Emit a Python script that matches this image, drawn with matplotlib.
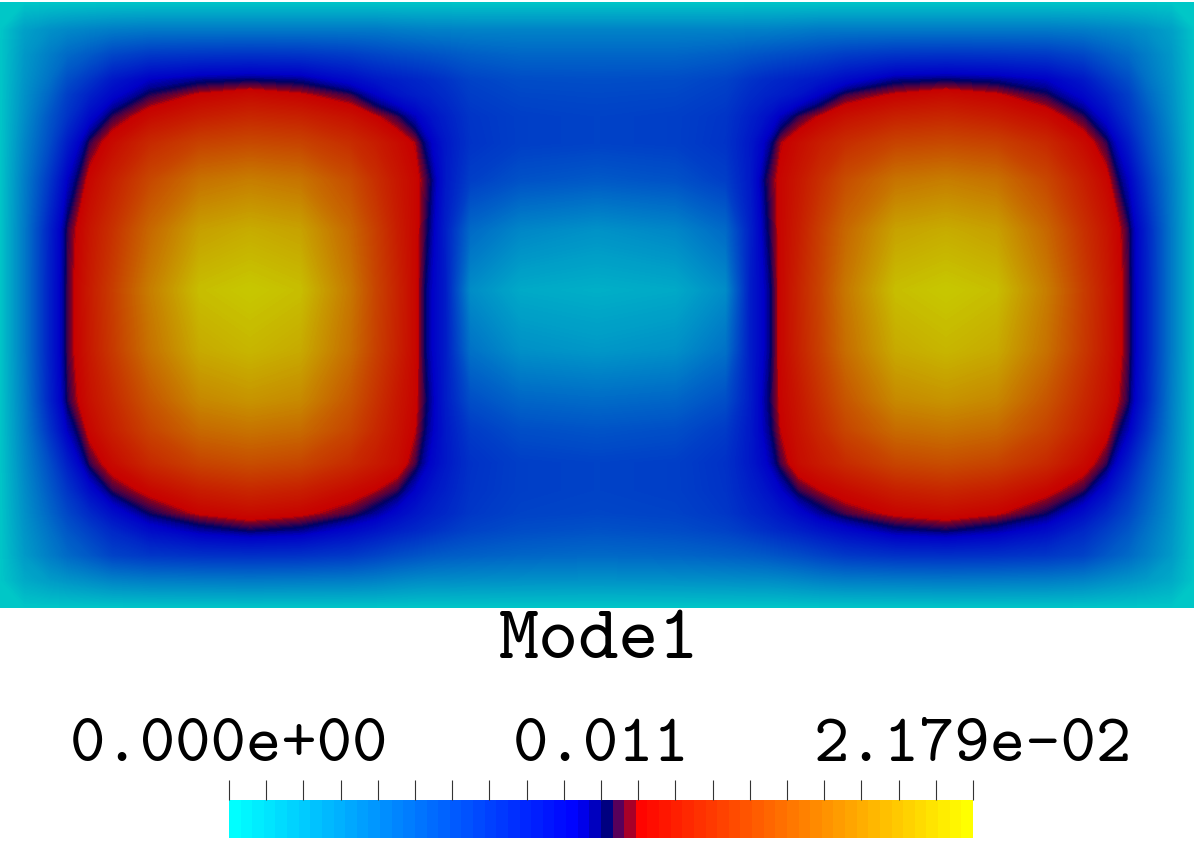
"""
Model1 field on a rectangle, with a ParaView style scalar bar
"""
import numpy as np
import matplotlib
matplotlib.use('Agg')
import matplotlib.pyplot as plt
from matplotlib.colors import LinearSegmentedColormap, to_rgb

# ── Data ──────────────────────────────────────────────────────────────────
scale_title = 'Mode1'
scale_min, scale_max = 0.0, 2.179e-2
scale_labels = ['0.000e+00', '0.011', '2.179e-02']
n_ticks = 21

# grid lines of the left half of the domain, in picture pixels
xs_left = [0, 25, 50, 68, 90, 113, 150, 200, 250, 300, 350, 375, 397, 415, 430, 445, 470, 520, 597]
ys = [2, 30, 55, 80, 95, 117, 143, 180, 230, 290, 350, 400, 430, 463, 490, 513, 530, 555, 580, 608]

# values, in units of 1e-4
field_left = [
    [0, 0, 0, 0, 0, 0, 0, 0, 0, 0, 0, 0, 0, 0, 0, 0, 0, 0, 0],
    [0, 20, 28, 32, 35, 38, 40, 40, 40, 40, 40, 40, 38, 37, 36, 36, 35, 35, 35],
    [0, 24, 38, 48, 56, 66, 73, 75, 76, 75, 71, 67, 64, 62, 60, 58, 54, 50, 50],
    [0, 26, 44, 62, 75, 90, 102, 108, 110, 108, 97, 90, 86, 83, 80, 76, 68, 63, 62],
    [0, 28, 50, 70, 85, 98, 112, 120, 124, 120, 113, 102, 92, 87, 84, 80, 71, 66, 65],
    [0, 30, 58, 76, 97, 113, 124, 133, 138, 135, 127, 120, 113, 103, 93, 86, 75, 70, 68],
    [0, 34, 63, 88, 113, 124, 139, 151, 155, 152, 141, 133, 125, 118, 103, 90, 76, 70, 68],
    [0, 38, 74, 102, 122, 134, 154, 175, 181, 176, 157, 142, 130, 122, 111, 90, 70, 60, 56],
    [0, 40, 85, 113, 129, 143, 170, 198, 204, 199, 170, 150, 133, 122, 108, 86, 48, 33, 27],
    [0, 40, 86, 114, 132, 149, 181, 213, 218, 213, 178, 153, 136, 122, 104, 88, 30, 15, 12],
    [0, 40, 86, 114, 131, 147, 175, 203, 209, 203, 173, 151, 135, 122, 104, 88, 44, 28, 24],
    [0, 38, 84, 112, 127, 139, 161, 186, 192, 187, 161, 144, 130, 121, 107, 88, 62, 50, 47],
    [0, 36, 76, 103, 122, 134, 152, 171, 176, 172, 153, 139, 128, 119, 105, 90, 72, 62, 59],
    [0, 33, 63, 87, 113, 124, 139, 152, 157, 153, 140, 132, 125, 114, 100, 90, 77, 70, 68],
    [0, 30, 56, 75, 96, 113, 122, 133, 138, 134, 124, 119, 113, 101, 92, 86, 76, 70, 68],
    [0, 28, 50, 66, 81, 95, 111, 120, 124, 121, 114, 107, 98, 91, 86, 82, 74, 68, 66],
    [0, 26, 44, 58, 70, 82, 96, 106, 111, 108, 98, 92, 86, 82, 78, 74, 68, 63, 60],
    [0, 23, 38, 48, 57, 68, 74, 77, 78, 77, 73, 68, 63, 60, 57, 55, 53, 50, 48],
    [0, 15, 22, 26, 30, 35, 38, 39, 40, 39, 38, 36, 33, 31, 30, 30, 29, 28, 27],
    [0, 0, 0, 0, 0, 0, 0, 0, 0, 0, 0, 0, 0, 0, 0, 0, 0, 0, 0],
]

# colour map stops
cmap_pos = [0.0, 0.468, 0.49, 0.508, 0.524, 0.54, 0.548, 1.0]
cmap_col = ['#00ffff', '#0000ff', '#0000c8', '#000080', '#5a005a', '#aa0028', '#ff0000', '#ffff00']

SURFACE_SHADE = 0.78   # lit surface is dimmer than the bar
MIRROR_X = 598

# ── Field ─────────────────────────────────────────────────────────────────
left = np.array(field_left, dtype=float) * 1e-4
field = np.hstack([left, left[:, -2::-1]])
xs = np.array(xs_left + [2 * MIRROR_X - x for x in xs_left[-2::-1]], dtype=float)

bar_cmap = LinearSegmentedColormap.from_list('bar', list(zip(cmap_pos, cmap_col)), N=64)
surf_cmap = LinearSegmentedColormap.from_list(
    'surf', [(p, tuple(SURFACE_SHADE * c for c in to_rgb(col))) for p, col in zip(cmap_pos, cmap_col)], N=512)

W, H = 1194, 843
fig = plt.figure(figsize=(W / 100, H / 100), dpi=100, facecolor='white')

ax = fig.add_axes([0, (H - 608) / H, 1, 606 / H])
levels = np.linspace(scale_min, scale_max, 257)
ax.contourf(xs, ys, field, levels=levels, cmap=surf_cmap, extend='both', antialiased=False)
ax.set_xlim(0, W)
ax.set_ylim(608, 2)
ax.axis('off')

# ── Scalar bar ────────────────────────────────────────────────────────────
cax = fig.add_axes([229 / W, (H - 838) / H, 744 / W, 38 / H])
cax.imshow(np.linspace(0, 1, 64)[None, :], aspect='auto', cmap=bar_cmap,
           extent=[scale_min, scale_max, 0, 1], interpolation='nearest')
cax.set_yticks([])
cax.set_xticks(np.linspace(scale_min, scale_max, n_ticks))
cax.tick_params(axis='x', top=True, bottom=False, labeltop=False, labelbottom=False,
                length=14.4, width=0.8, color='#333333')
for s in cax.spines.values():
    s.set_visible(False)

# ── Text ──────────────────────────────────────────────────────────────────
font = 'cmtt10'
fig.text(599 / W, 1 - 658 / H, scale_title, family=font, fontsize=55, ha='center', va='baseline')
for x, label in zip([229, 601, 973], scale_labels):
    fig.text(x / W, 1 - 761 / H, label, family=font, fontsize=48.5, ha='center', va='baseline')

fig.savefig('out.png', dpi=100)
